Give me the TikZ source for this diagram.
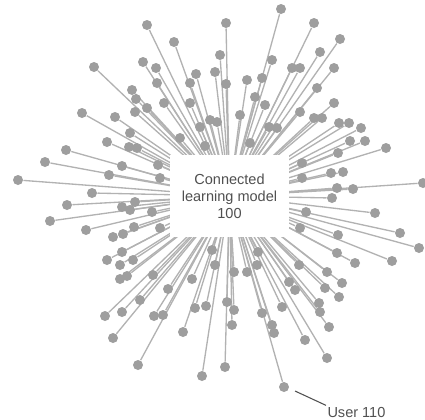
\documentclass[tikz,border=0pt]{standalone}
\usepackage{fontspec}
\setmainfont{Liberation Sans}
\usetikzlibrary{backgrounds}

\definecolor{dotgray}{RGB}{158,158,158}
\definecolor{linkgray}{RGB}{178,178,178}
\definecolor{textgray}{RGB}{80,80,80}

\tikzset{every picture/.style={line width=0.75pt}}

\begin{document}
\begin{tikzpicture}[x=0.75pt,y=0.75pt,yscale=-1,xscale=1,
  user/.style={circle,fill=dotgray,inner sep=0pt,minimum size=7.5pt},
  link/.style={draw=linkgray,line width=1pt},
  leader/.style={draw=textgray,line width=0.8pt},
  modelbox/.style={fill=white,inner sep=0pt,minimum width=89pt,minimum height=61.5pt,
    align=center,text=textgray,font=\fontsize{10.9}{12.75}\selectfont}]
\useasboundingbox (0,0) rectangle (425,419);

% Central box
\node [modelbox] (model) at (229.5,196) {Connected\\learning model\\100};

% Users
\foreach \px/\py [count=\i] in {
  147/25, 174/42, 94/67, 143/62, 156/68, 157/83, 196/74, 190/83, 132/90, 136/99,
  147/108, 135/112, 164/103, 82/113, 115/117, 130/133, 107/142, 129/147, 137/148, 180/138,
  66/150, 45/162, 122/166, 158/165, 109/175, 18/180, 92/193, 67/205, 135/202, 190/103,
  200/127, 210/120, 217/122, 122/207, 130/210,
  281/9, 226/23, 314/23, 340/39, 320/52, 220/55, 272/60, 215/72, 292/68, 300/68,
  334/68, 226/84, 247/80, 262/78, 317/88, 255/97, 265/105, 300/112, 334/103, 240/115,
  314/118, 322/118, 339/123, 349/123, 361/128, 269/127, 277/128, 350/141, 365/141, 386/148,
  338/153, 302/163, 331/173, 343/172, 337/188, 353/189, 423/183, 332/198,
  50/221, 86/230, 113/237, 123/234, 134/227, 122/252, 107/260, 120/265, 133/260, 120/279,
  127/276, 153/275, 168/289, 192/279, 140/300, 105/316, 122/312, 154/316, 163/315, 113/338,
  183/332, 195/308, 206/306, 138/365, 202/376,
  375/213, 400/233, 419/248, 392/261, 355/263, 338/235, 337/253, 327/272, 342/283, 325/288,
  339/297, 299/265, 289/282, 295/290, 319/303, 320/312, 329/327, 282/307, 262/313, 272/325,
  274/333, 305/340, 327/358, 227/302, 234/310, 232/325, 225/367, 247/272, 234/272, 215/265,
  257/265, 284/387,
  160/178, 152/212, 160/228, 302/178, 306/212, 300/228, 205/146, 250/143, 212/250, 258/252}
  \node [user] (u\i) at (\px,\py) {};

% Links
\begin{scope}[on background layer]
\foreach \i in {1,...,140}
  \draw [link] (u\i) -- (model.center);
\end{scope}

% Text Node
\node [anchor=west,inner sep=0.75pt,text=textgray,font=\fontsize{10.9}{12.75}\selectfont] (ulabel) at (326,412) {User 110};
\coordinate (ltip) at (295,391);
\draw [leader] (ulabel.north west) -- (ltip);

\end{tikzpicture}
\end{document}
